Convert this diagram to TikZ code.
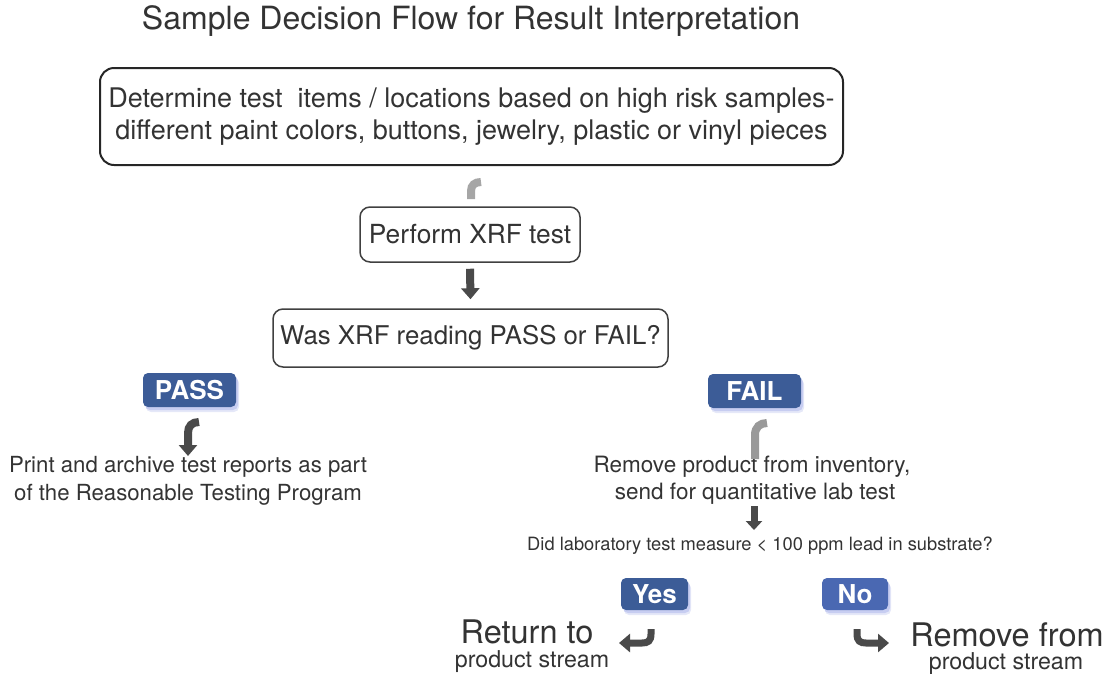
\documentclass[tikz,border=0pt]{standalone}
\usepackage{fontspec}
\setmainfont{TeX Gyre Heros}
\usetikzlibrary{shadows,arrows.meta}
\definecolor{txt}{HTML}{333333}
\definecolor{badgeA}{HTML}{3C5C97}
\definecolor{badgeB}{HTML}{4A68B2}
\definecolor{shadowc}{HTML}{B4BCEC}
\definecolor{arrowc}{HTML}{4A4A4A}
\begin{document}
\begin{tikzpicture}[x=1pt,y=-1pt,
  every node/.style={text=txt},
  box/.style={draw=black!85, rounded corners=14pt, line width=2pt, align=center, inner sep=0pt},
  smallbox/.style={draw=black!75, rounded corners=10pt, line width=1.5pt, align=center, inner sep=0pt},
  badge/.style={fill=#1, rounded corners=5pt, text=white, font=\fontsize{26}{30}\selectfont\bfseries,
     inner sep=0pt,
     drop shadow={shadow xshift=3pt, shadow yshift=-5pt, fill=shadowc, opacity=0.35},
     drop shadow={shadow xshift=2pt, shadow yshift=-3pt, fill=shadowc, opacity=0.6}},
  bigarrow/.style={draw=arrowc, line width=8pt, -{Triangle[width=18pt,length=11pt]}},
  hookarrow/.style={draw=arrowc, line width=7pt, -{Triangle[width=18pt,length=11pt]}},
  fadecurve/.style={draw=#1, line width=8pt},
  plain/.style={align=center, inner sep=0pt}
]
\useasboundingbox (0,0) rectangle (1108,673);

\node[plain, font=\fontsize{32}{38}\selectfont] (title) at (471,21) {Sample Decision Flow for Result Interpretation};

\node[box, minimum width=743pt, minimum height=97pt, font=\fontsize{27}{32}\selectfont] (b1) at (471.5,116.5)
  {Determine test\ \ items / locations based on high risk samples-\\different paint colors, buttons, jewelry, plastic or vinyl pieces};

\node[smallbox, minimum width=220pt, minimum height=55pt, font=\fontsize{26.3}{30}\selectfont] (b2) at (470,234.5) {Perform XRF test};

\node[smallbox, minimum width=395pt, minimum height=58pt, font=\fontsize{25.8}{30}\selectfont] (b3) at (470.5,338) {Was XRF reading PASS or FAIL?};

\node[badge=badgeA, minimum width=93pt, minimum height=34pt] (pass) at (189.5,390) {PASS};
\node[badge=badgeA, minimum width=93pt, minimum height=34pt] (fail) at (754.5,391) {FAIL};

\node[plain, font=\fontsize{22.2}{28}\selectfont] (print) at (188,481) {Print and archive test reports as part\\of the Reasonable Testing Program};

\node[plain, font=\fontsize{22.5}{27}\selectfont] (remove) at (752,480) {Remove product from inventory,\\\ send for quantitative lab test};

\node[plain, font=\fontsize{18.3}{20}\selectfont] (q) at (760,546) {Did laboratory test measure < 100 ppm lead in substrate?};

\node[badge=badgeA, minimum width=67pt, minimum height=32pt] (yes) at (654.5,594) {Yes};
\node[badge=badgeB, minimum width=66pt, minimum height=32pt] (no) at (855,594) {No};

\node[plain, font=\fontsize{32.5}{34}\selectfont] (ret) at (527,632) {Return to};
\node[plain, font=\fontsize{23.2}{24}\selectfont] (retps) at (532,662) {product stream};
\node[plain, font=\fontsize{32.5}{34}\selectfont] (rem) at (1007,635) {Remove from};
\node[plain, font=\fontsize{23.2}{24}\selectfont] (remps) at (1006,664) {product stream};

% connectors
\coordinate (c1a) at (481,182);
\coordinate (c1b) at (471,199);
\draw[fadecurve=black!35] (c1a) .. controls (475,182) and (471,185) .. (471,191) -- (c1b);

\draw[bigarrow] ([yshift=-6pt]b2.south) -- ([yshift=9pt]b3.north);

\coordinate (c2a) at (199,422);
\coordinate (c2b) at (188,456);
\draw[bigarrow] (c2a) .. controls (192,422) and (188,426) .. (188,433) -- (c2b);

\coordinate (c3a) at (767,423);
\coordinate (c3b) at (755,459);
\draw[fadecurve=black!40] (c3a) .. controls (760,423) and (755,427) .. (755,435) -- (c3b);

\draw[bigarrow, line width=7pt, -{Triangle[width=16pt,length=9pt]}] ([xshift=2pt,yshift=-2pt]remove.south) -- ([xshift=-6pt,yshift=7pt]q.north);

\coordinate (yh) at (651,629);
\coordinate (yend) at (619,643);
\draw[hookarrow] (yh) -- (651,634) .. controls (651,641) and (648,643) .. (642,643) -- (yend);

\coordinate (nh) at (857,629);
\coordinate (nend) at (889,643);
\draw[hookarrow] (nh) -- (857,634) .. controls (857,641) and (860,643) .. (866,643) -- (nend);
\end{tikzpicture}
\end{document}
